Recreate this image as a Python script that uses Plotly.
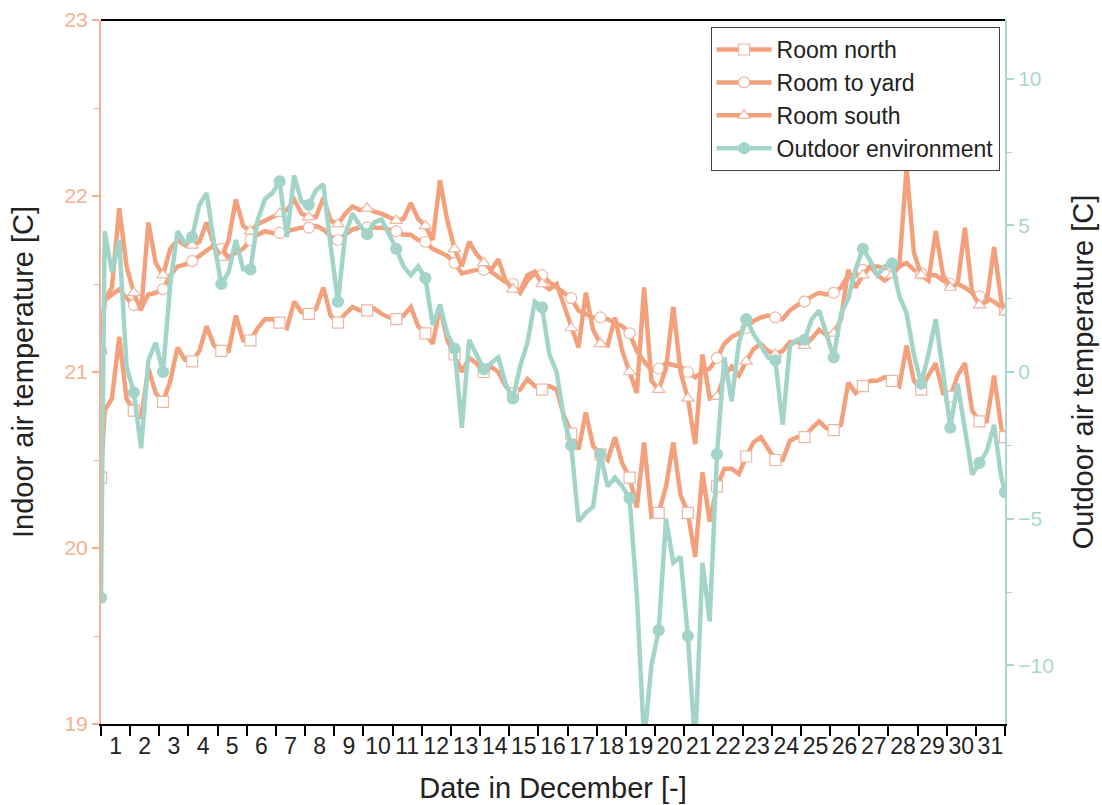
import plotly.graph_objects as go

# ---------------- data ----------------
days = list(range(1, 32))                 # December days
tick_labels = [str(d) for d in days]
hours = [3, 9, 15, 21]                    # sampling hours within each day

room_north = [20.40,
    20.78, 20.85, 21.20, 20.85,  20.78, 20.74, 21.02, 20.88,  20.83, 20.95, 21.14, 21.07,
    21.06, 21.12, 21.26, 21.15,  21.12, 21.12, 21.32, 21.18,  21.18, 21.25, 21.30, 21.30,
    21.28, 21.25, 21.40, 21.34,  21.33, 21.36, 21.48, 21.32,  21.28, 21.33, 21.37, 21.35,
    21.35, 21.36, 21.33, 21.31,  21.30, 21.32, 21.37, 21.26,  21.22, 21.16, 21.37, 21.18,
    21.10, 21.00, 21.08, 21.05,  21.00, 21.03, 21.00, 20.92,  20.88, 20.90, 20.96, 20.92,
    20.90, 20.92, 20.90, 20.75,  20.65, 20.56, 20.77, 20.58,  20.53, 20.50, 20.63, 20.48,
    20.40, 20.23, 20.60, 20.18,  20.20, 20.35, 20.60, 20.30,  20.20, 19.95, 20.43, 20.15,
    20.35, 20.45, 20.45, 20.42,  20.52, 20.60, 20.63, 20.56,  20.50, 20.50, 20.61, 20.63,
    20.63, 20.68, 20.72, 20.68,  20.67, 20.70, 20.94, 20.88,  20.92, 20.95, 20.95, 20.97,
    20.95, 20.92, 21.15, 20.95,  20.90, 20.98, 21.05, 20.88,  20.86, 20.98, 21.05, 20.78,
    20.72, 20.72, 20.98, 20.68,
    20.63]

room_yard = [21.12,
    21.41, 21.44, 21.47, 21.42,  21.38, 21.36, 21.44, 21.45,  21.47, 21.55, 21.60, 21.61,
    21.63, 21.66, 21.69, 21.72,  21.70, 21.65, 21.68, 21.70,  21.75, 21.78, 21.80, 21.79,
    21.79, 21.80, 21.81, 21.82,  21.82, 21.83, 21.81, 21.77,  21.75, 21.78, 21.81, 21.82,
    21.82, 21.82, 21.82, 21.81,  21.80, 21.78, 21.78, 21.75,  21.74, 21.70, 21.68, 21.66,
    21.62, 21.56, 21.57, 21.58,  21.58, 21.57, 21.54, 21.51,  21.50, 21.45, 21.52, 21.56,
    21.55, 21.51, 21.48, 21.45,  21.42, 21.35, 21.33, 21.31,  21.31, 21.30, 21.28, 21.26,
    21.22, 21.12, 21.06, 21.01,  21.02, 21.05, 21.04, 21.03,  21.00, 20.97, 21.00, 21.02,
    21.08, 21.16, 21.20, 21.22,  21.25, 21.29, 21.31, 21.32,  21.31, 21.30, 21.35, 21.38,
    21.40, 21.43, 21.45, 21.44,  21.45, 21.48, 21.55, 21.55,  21.58, 21.60, 21.60, 21.59,
    21.60, 21.60, 21.62, 21.58,  21.56, 21.55, 21.55, 21.52,  21.50, 21.50, 21.48, 21.45,
    21.43, 21.42, 21.40, 21.37,
    21.35]

room_south = [21.12,
    21.41, 21.48, 21.93, 21.60,  21.45, 21.35, 21.85, 21.62,  21.55, 21.70, 21.75, 21.72,
    21.72, 21.74, 21.85, 21.72,  21.65, 21.75, 21.98, 21.83,  21.80, 21.84, 21.86, 21.88,
    21.90, 21.92, 21.98, 21.90,  21.88, 21.88, 21.99, 21.86,  21.84, 21.90, 21.94, 21.92,
    21.93, 21.91, 21.90, 21.88,  21.86, 21.87, 21.96, 21.87,  21.83, 21.75, 22.09, 21.86,
    21.70, 21.60, 21.74, 21.67,  21.62, 21.58, 21.64, 21.52,  21.47, 21.46, 21.55, 21.57,
    21.50, 21.47, 21.50, 21.38,  21.25, 21.14, 21.45, 21.24,  21.16, 21.15, 21.31, 21.12,
    21.00, 20.88, 21.48, 20.95,  20.90, 21.02, 21.37, 21.00,  20.85, 20.59, 21.10, 20.85,
    20.86, 20.98, 21.03, 20.98,  21.06, 21.13, 21.16, 21.12,  21.10, 21.12, 21.17, 21.17,
    21.15, 21.19, 21.24, 21.21,  21.22, 21.30, 21.58, 21.48,  21.55, 21.60, 21.55, 21.52,
    21.55, 21.60, 22.16, 21.68,  21.55, 21.52, 21.80, 21.55,  21.48, 21.50, 21.82, 21.45,
    21.38, 21.40, 21.71, 21.40,
    21.34]

outdoor = [-7.7,
    4.8, 3.4, 4.5, 0.2,   -0.7, -2.6, 0.4, 1.0,   0.0, 3.0, 4.8, 4.4,
    4.6, 5.7, 6.1, 4.4,   3.0, 3.4, 4.5, 3.5,   3.5, 5.2, 5.9, 6.1,
    6.5, 4.6, 6.7, 5.8,   5.7, 6.2, 6.4, 4.3,   2.4, 4.7, 5.4, 5.0,
    4.7, 5.1, 5.2, 4.7,   4.2, 3.6, 3.3, 3.6,   3.2, 1.6, 2.3, 1.3,
    0.8, -1.9, 1.1, 0.6,  0.1, 0.3, 0.5, -0.4,  -0.9, 0.2, 1.0, 2.4,
    2.2, 0.6, 0.0, -1.6,  -2.5, -5.1, -4.8, -4.6, -2.8, -3.9, -3.6, -3.9,
    -4.3, -7.6, -12.6, -10.0,  -8.8, -5.0, -6.5, -6.3,  -9.0, -12.8, -6.5, -8.5,
    -2.8, 0.5, -1.0, 1.0,  1.8, 1.3, 0.9, 0.5,   0.4, -1.8, 0.9, 1.1,
    1.1, 1.8, 2.1, 1.3,   0.5, 2.0, 2.5, 3.5,   4.2, 3.8, 3.3, 3.6,
    3.7, 2.6, 2.0, 0.6,   -0.4, 0.6, 1.8, 0.0,  -1.9, -0.4, -2.0, -3.5,
    -3.1, -2.7, -1.8, -3.6,
    -4.1]

# time axis (days since 1 Dec 00:00)
t = [0.0] + [d + h / 24 for d in range(31) for h in hours] + [31.0]
mk_idx = [0] + list(range(5, 125, 4)) + [125]   # one marker per day

# ---------------- styles ----------------
FONT = "Arial, Liberation Sans, sans-serif"
ORANGE = "#F2A17C"
ORANGE_AX = "#F3B092"
ORANGE_MK = "#EDB7A2"
TEAL = "#A3D4C9"
TEAL_AX = "#A9D7CD"

fig = go.Figure()

series = [
    ("Room north", room_north, "square", "y", ORANGE, "white", ORANGE_MK),
    ("Room to yard", room_yard, "circle", "y", ORANGE, "white", ORANGE_MK),
    ("Room south", room_south, "triangle-up", "y", ORANGE, "white", ORANGE_MK),
    ("Outdoor environment", outdoor, "circle", "y2", TEAL, TEAL, TEAL),
]

for name, vals, sym, yax, lc, fc, mlc in series:
    fig.add_trace(go.Scatter(x=t, y=vals, mode="lines", yaxis=yax,
                             line=dict(color=lc, width=4.5), showlegend=False,
                             hoverinfo="skip"))
    fig.add_trace(go.Scatter(x=[t[i] for i in mk_idx], y=[vals[i] for i in mk_idx],
                             mode="markers", yaxis=yax, showlegend=False,
                             marker=dict(symbol=sym, size=11, color=fc,
                                         line=dict(color=mlc, width=1.2)),
                             hoverinfo="skip"))

for name, vals, sym, yax, lc, fc, mlc in series:
    fig.add_trace(go.Scatter(x=[None], y=[None], mode="lines+markers", name=name,
                             yaxis=yax, line=dict(color=lc, width=4.5),
                             marker=dict(symbol=sym, size=11, color=fc,
                                         line=dict(color=mlc, width=1.2))))

fig.update_layout(
    width=1102, height=805,
    margin=dict(l=101, r=97, t=20, b=81),
    paper_bgcolor="white", plot_bgcolor="white",
    font=dict(family=FONT, color="#222"),
    showlegend=True,
    legend=dict(x=0.994, y=0.99, xanchor="right", yanchor="top",
                bgcolor="white", bordercolor="#444", borderwidth=1,
                font=dict(family=FONT, size=23, color="#222"),
                itemwidth=55, tracegroupgap=0),
    xaxis=dict(range=[0, 31], tickmode="array",
               tickvals=[d - 0.5 for d in days], ticktext=tick_labels,
               ticks="", tickangle=0,
               tickfont=dict(family=FONT, size=23, color="#222"),
               showline=True, linecolor="black", linewidth=2,
               showgrid=False, zeroline=False, automargin=False,
               minor=dict(tickmode="array", tickvals=list(range(32)),
                          ticks="outside", ticklen=10, tickwidth=1.5,
                          tickcolor="black", showgrid=False),
               title=dict(text="Date in December [-]",
                          font=dict(family=FONT, size=29, color="#222"),
                          standoff=20)),
    yaxis=dict(range=[19, 23], tickmode="linear", tick0=19, dtick=1,
               ticks="outside", ticklen=7, tickwidth=1.5, tickcolor=ORANGE_AX,
               tickfont=dict(family=FONT, size=21, color=ORANGE_AX),
               showline=True, linecolor=ORANGE_AX, linewidth=2,
               showgrid=False, zeroline=False, automargin=False,
               minor=dict(dtick=0.5, tick0=19, ticks="outside", ticklen=5,
                          tickwidth=1.2, tickcolor=ORANGE_AX, showgrid=False),
               title=dict(text="Indoor air temperature [C]",
                          font=dict(family=FONT, size=29, color="#222"),
                          standoff=22)),
    yaxis2=dict(range=[-12, 12], overlaying="y", side="right",
                tickmode="array", tickvals=[-10, -5, 0, 5, 10],
                ticks="outside", ticklen=7, tickwidth=1.5, tickcolor=TEAL_AX,
                tickfont=dict(family=FONT, size=21, color=TEAL_AX),
                showline=True, linecolor=TEAL_AX, linewidth=2,
                showgrid=False, zeroline=False, automargin=False,
                minor=dict(dtick=2.5, tick0=0, ticks="outside", ticklen=5,
                           tickwidth=1.2, tickcolor=TEAL_AX, showgrid=False),
                title=dict(text="Outdoor air temperature [C]",
                           font=dict(family=FONT, size=29, color="#222"),
                           standoff=20)),
    shapes=[dict(type="line", xref="paper", yref="paper", x0=0, x1=1, y0=1, y1=1,
                 line=dict(color="black", width=2))],
)

fig.write_html("out.html")
